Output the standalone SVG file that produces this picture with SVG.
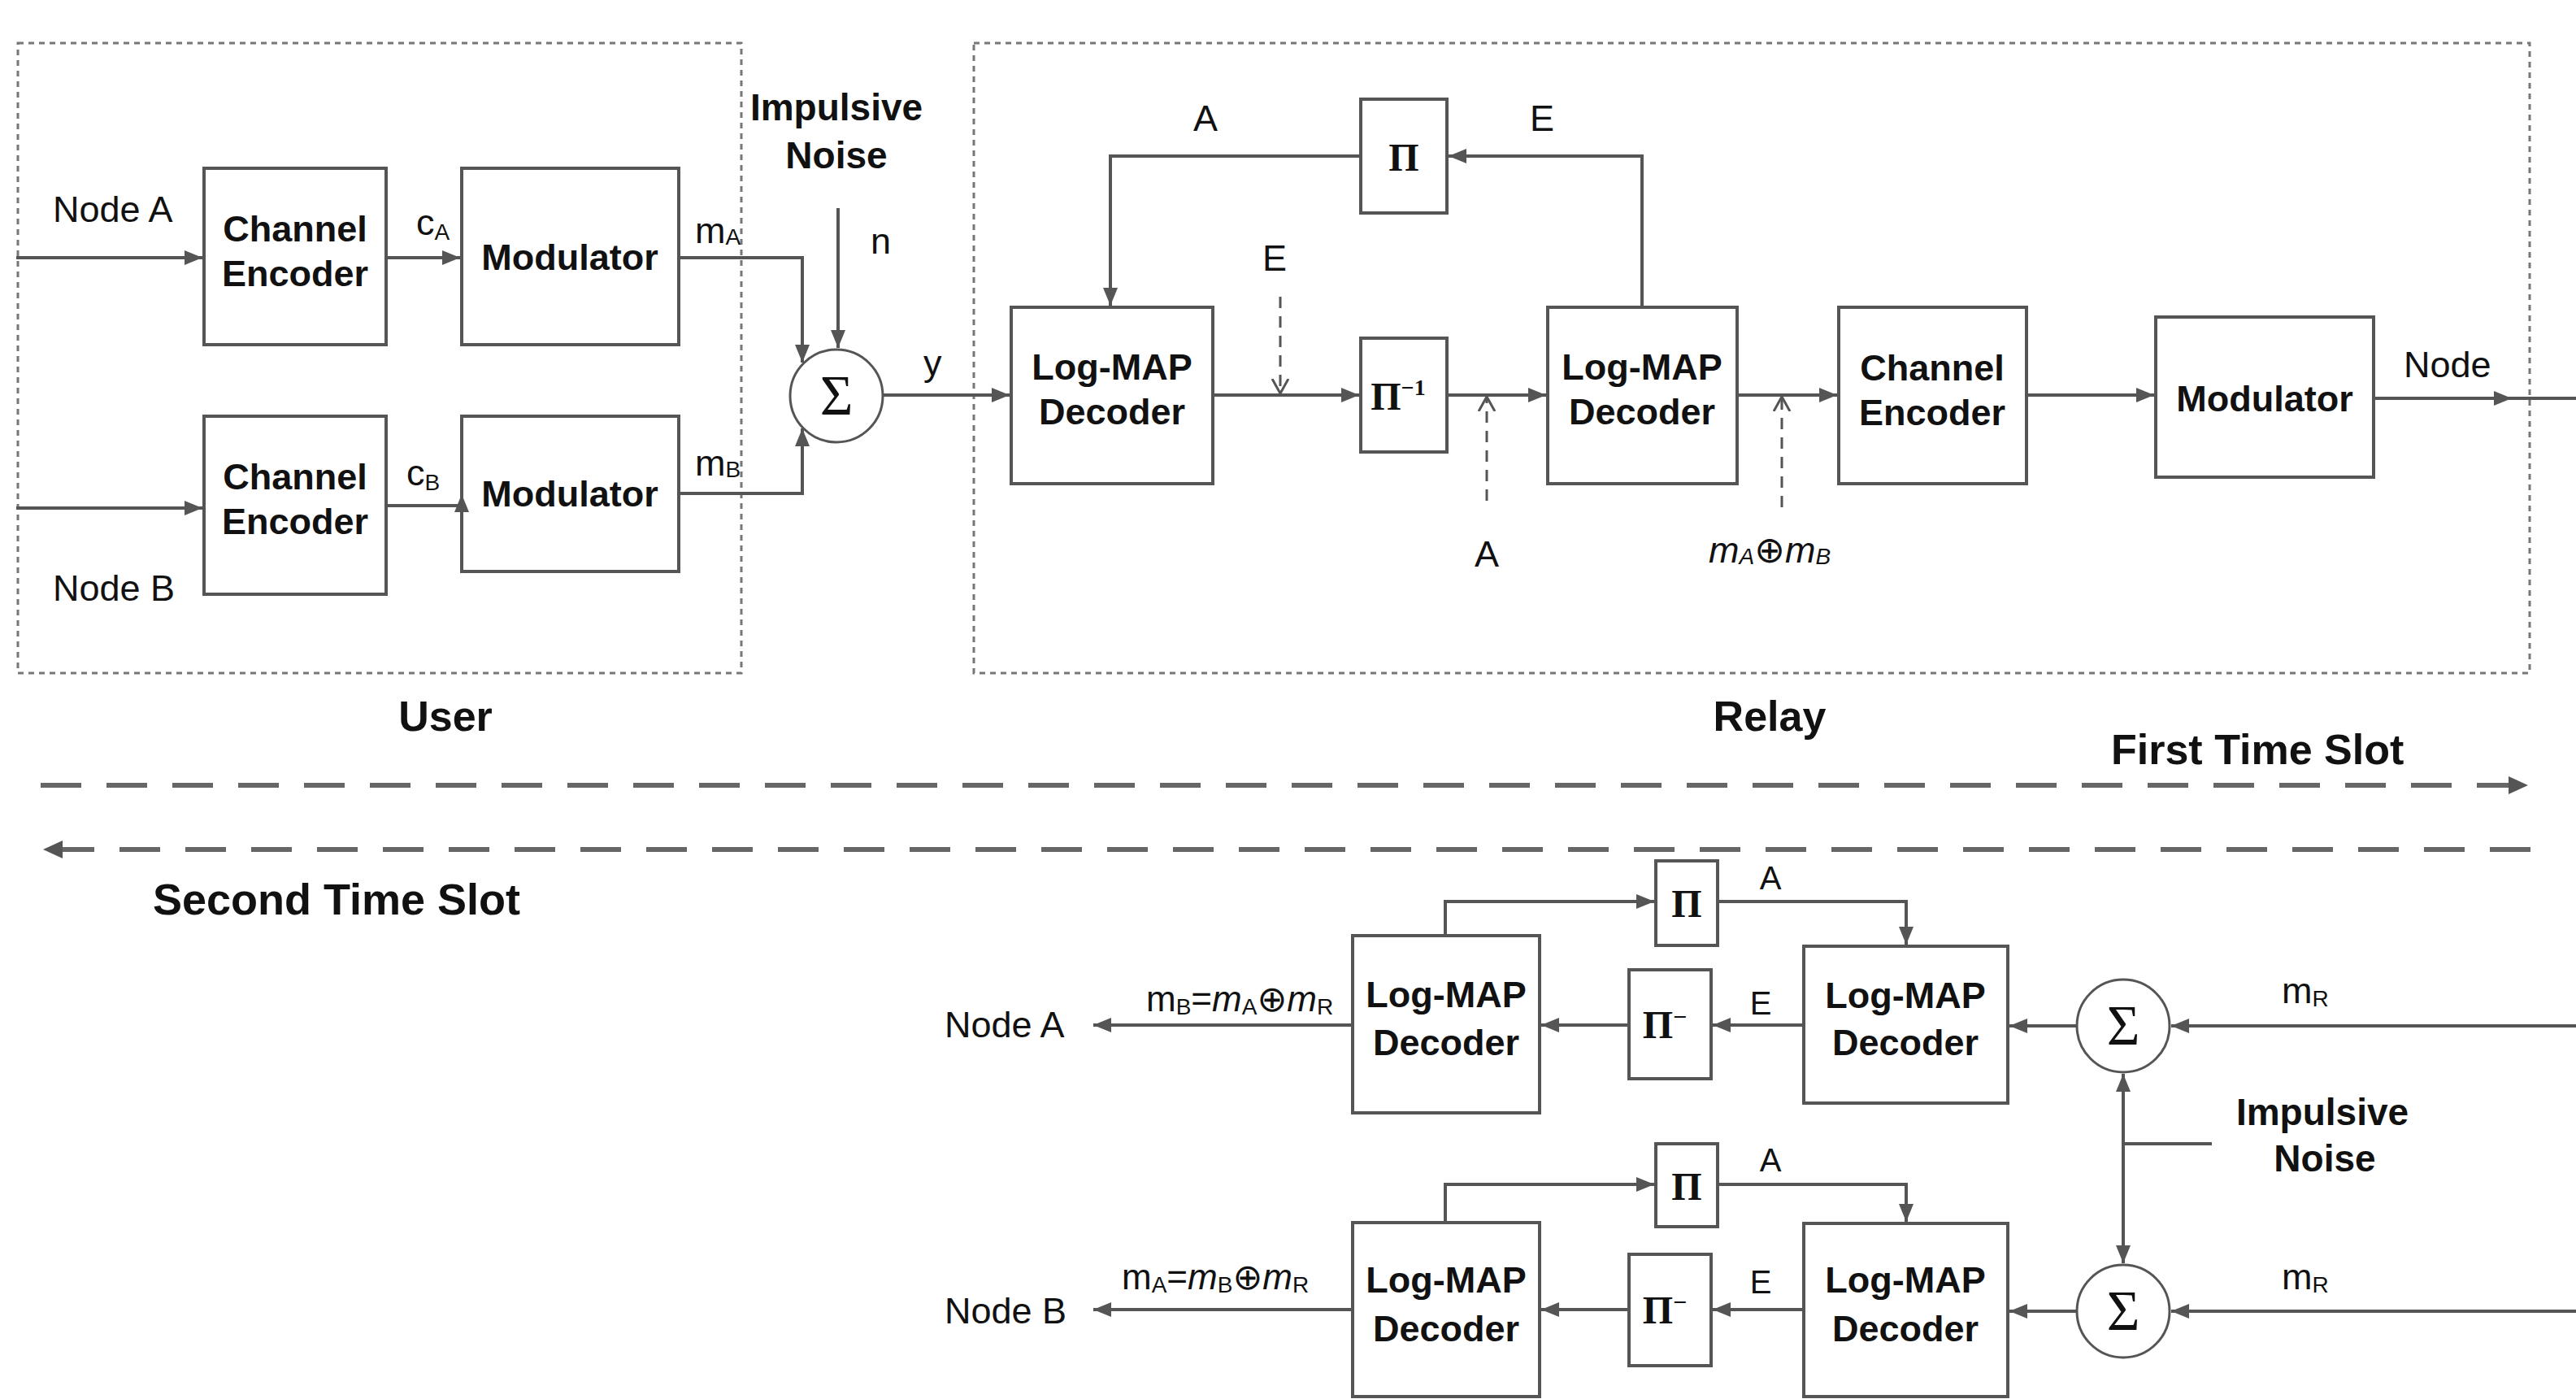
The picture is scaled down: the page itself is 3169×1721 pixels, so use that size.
<svg xmlns="http://www.w3.org/2000/svg" width="3169" height="1721" viewBox="0 0 3169 1721">
<defs>
<marker id="ah" markerUnits="userSpaceOnUse" markerWidth="24" markerHeight="20" refX="22" refY="9" orient="auto"><path d="M0,0 L22,9 L0,18 z" fill="#555"/></marker>
<marker id="ahd" markerUnits="userSpaceOnUse" markerWidth="26" markerHeight="24" refX="24" refY="11" orient="auto"><path d="M0,0 L24,11 L0,22 z" fill="#555"/></marker>
<marker id="av" markerUnits="userSpaceOnUse" markerWidth="20" markerHeight="24" refX="18" refY="11" orient="auto"><path d="M0,1 L18,11 L0,21" fill="none" stroke="#555" stroke-width="3"/></marker>
<style>
.box{fill:#fff;stroke:#555;stroke-width:4}
.grp{fill:none;stroke:#777;stroke-width:3;stroke-dasharray:7 6}
.ln{fill:none;stroke:#555;stroke-width:4}
.dl{fill:none;stroke:#555;stroke-width:3;stroke-dasharray:14 10}
.slot{fill:none;stroke:#666;stroke-width:6;stroke-dasharray:50 31}
.sum{fill:#fff;stroke:#555;stroke-width:3}
text{font-family:"Liberation Sans",Arial,"DejaVu Sans",sans-serif;fill:#111}
.bl{font-weight:bold;font-size:45px;text-anchor:middle}
.lb{font-size:45px}
.sm{font-size:40px}
.fm{font-size:44px}
.sub{font-size:28px}
.big{font-weight:bold;font-size:52px}
.imp{font-weight:bold;font-size:46px;text-anchor:middle}
.pi{font-family:"Liberation Serif","Times New Roman",serif;font-weight:bold;font-size:48px;text-anchor:middle}
.sig{font-family:"Liberation Serif","Times New Roman",serif;font-size:70px;text-anchor:middle}
.it{font-style:italic}
</style>
</defs>

<!-- group frames -->
<g id="user-frame"><rect class="grp" x="22" y="53" width="890" height="775"/><text class="big" x="548" y="899" text-anchor="middle">User</text></g>
<g id="relay-frame"><rect class="grp" x="1198" y="53" width="1914" height="775"/><text class="big" x="2177" y="899" text-anchor="middle">Relay</text></g>

<!-- user nodes -->
<g id="enc-a"><rect class="box" x="251" y="207" width="224" height="217"/><text class="bl" x="363" y="297">Channel</text><text class="bl" x="363" y="352">Encoder</text></g>
<g id="mod-a"><rect class="box" x="568" y="207" width="267" height="217"/><text class="bl" x="701" y="332">Modulator</text></g>
<g id="enc-b"><rect class="box" x="251" y="512" width="224" height="219"/><text class="bl" x="363" y="602">Channel</text><text class="bl" x="363" y="657">Encoder</text></g>
<g id="mod-b"><rect class="box" x="568" y="512" width="267" height="191"/><text class="bl" x="701" y="623">Modulator</text></g>
<g id="sum-1"><circle class="sum" cx="1029" cy="487" r="57"/><text class="sig" x="1029" y="510">Σ</text></g>

<!-- relay nodes -->
<g id="dec-r1"><rect class="box" x="1244" y="378" width="248" height="217"/><text class="bl" x="1368" y="467">Log-MAP</text><text class="bl" x="1368" y="522">Decoder</text></g>
<g id="pi-r"><rect class="box" x="1674" y="122" width="106" height="140"/><text class="pi" x="1727" y="210">Π</text></g>
<g id="pinv-r"><rect class="box" x="1674" y="416" width="106" height="140"/><text class="pi" x="1720" y="504">Π<tspan style="font-size:28px" dy="-18">−1</tspan></text></g>
<g id="dec-r2"><rect class="box" x="1904" y="378" width="233" height="217"/><text class="bl" x="2020" y="467">Log-MAP</text><text class="bl" x="2020" y="522">Decoder</text></g>
<g id="enc-r"><rect class="box" x="2262" y="378" width="231" height="217"/><text class="bl" x="2377" y="468">Channel</text><text class="bl" x="2377" y="523">Encoder</text></g>
<g id="mod-r"><rect class="box" x="2652" y="390" width="268" height="197"/><text class="bl" x="2786" y="506">Modulator</text></g>

<!-- second slot nodes -->
<g id="dec-a1"><rect class="box" x="1664" y="1151" width="230" height="218"/><text class="bl" x="1779" y="1239">Log-MAP</text><text class="bl" x="1779" y="1298">Decoder</text></g>
<g id="pi-a"><rect class="box" x="2037" y="1059" width="76" height="104"/><text class="pi" x="2075" y="1128">Π</text></g>
<g id="pinv-a"><rect class="box" x="2004" y="1193" width="101" height="134"/><text class="pi" x="2048" y="1277">Π<tspan style="font-size:30px" dy="-16">−</tspan></text></g>
<g id="dec-a2"><rect class="box" x="2219" y="1164" width="251" height="193"/><text class="bl" x="2344" y="1240">Log-MAP</text><text class="bl" x="2344" y="1298">Decoder</text></g>
<g id="sum-a"><circle class="sum" cx="2612" cy="1262" r="57"/><text class="sig" x="2612" y="1285">Σ</text></g>

<g id="dec-b1"><rect class="box" x="1664" y="1504" width="230" height="214"/><text class="bl" x="1779" y="1590">Log-MAP</text><text class="bl" x="1779" y="1650">Decoder</text></g>
<g id="pi-b"><rect class="box" x="2037" y="1407" width="76" height="102"/><text class="pi" x="2075" y="1476">Π</text></g>
<g id="pinv-b"><rect class="box" x="2004" y="1543" width="101" height="137"/><text class="pi" x="2048" y="1628">Π<tspan style="font-size:30px" dy="-16">−</tspan></text></g>
<g id="dec-b2"><rect class="box" x="2219" y="1505" width="251" height="213"/><text class="bl" x="2344" y="1590">Log-MAP</text><text class="bl" x="2344" y="1650">Decoder</text></g>
<g id="sum-b"><circle class="sum" cx="2612" cy="1613" r="57"/><text class="sig" x="2612" y="1636">Σ</text></g>

<!-- connectors -->
<g id="connectors">
<path class="ln" d="M20,317 H249" marker-end="url(#ah)"/>
<path class="ln" d="M20,625 H249" marker-end="url(#ah)"/>
<path class="ln" d="M475,317 H566" marker-end="url(#ah)"/>
<path class="ln" d="M475,622 H568 V608" marker-end="url(#ah)"/>
<path class="ln" d="M835,317 H987 V446" marker-end="url(#ah)"/>
<path class="ln" d="M835,607 H987 V527" marker-end="url(#ah)"/>
<path class="ln" d="M1031,256 V428" marker-end="url(#ah)"/>
<path class="ln" d="M1086,486 H1242" marker-end="url(#ah)"/>
<path class="ln" d="M2020,378 V192 H1782" marker-end="url(#ah)"/>
<path class="ln" d="M1674,192 H1366 V376" marker-end="url(#ah)"/>
<path class="ln" d="M1492,486 H1672" marker-end="url(#ah)"/>
<path class="ln" d="M1780,486 H1902" marker-end="url(#ah)"/>
<path class="ln" d="M2137,486 H2260" marker-end="url(#ah)"/>
<path class="ln" d="M2493,486 H2650" marker-end="url(#ah)"/>
<path class="ln" d="M2920,490 H3090" marker-end="url(#ah)"/>
<path class="ln" d="M3088,490 H3169"/>
<path class="dl" d="M1575,365 V484" marker-end="url(#av)"/>
<path class="dl" d="M1829,616 V488" marker-end="url(#av)"/>
<path class="dl" d="M2192,624 V488" marker-end="url(#av)"/>

<path class="slot" d="M50,966 H3110" marker-end="url(#ahd)"/>
<path class="slot" d="M3113,1045 H53" marker-end="url(#ahd)"/>

<path class="ln" d="M1778,1151 V1109 H2035" marker-end="url(#ah)"/>
<path class="ln" d="M2113,1109 H2345 V1162" marker-end="url(#ah)"/>
<path class="ln" d="M2219,1261 H2107" marker-end="url(#ah)"/>
<path class="ln" d="M2004,1261 H1896" marker-end="url(#ah)"/>
<path class="ln" d="M1664,1261 H1345" marker-end="url(#ah)"/>
<path class="ln" d="M2555,1262 H2472" marker-end="url(#ah)"/>
<path class="ln" d="M3169,1262 H2671" marker-end="url(#ah)"/>

<path class="ln" d="M1778,1504 V1457 H2035" marker-end="url(#ah)"/>
<path class="ln" d="M2113,1457 H2345 V1503" marker-end="url(#ah)"/>
<path class="ln" d="M2219,1611 H2107" marker-end="url(#ah)"/>
<path class="ln" d="M2004,1611 H1896" marker-end="url(#ah)"/>
<path class="ln" d="M1664,1611 H1345" marker-end="url(#ah)"/>
<path class="ln" d="M2555,1613 H2472" marker-end="url(#ah)"/>
<path class="ln" d="M3169,1613 H2671" marker-end="url(#ah)"/>

<path class="ln" d="M2612,1407 V1321" marker-end="url(#ah)"/>
<path class="ln" d="M2612,1407 V1554" marker-end="url(#ah)"/>
<path class="ln" d="M2612,1407 H2721"/>
</g>

<!-- labels -->
<g id="labels">
<text class="lb" x="65" y="273">Node A</text>
<text class="lb" x="65" y="739">Node B</text>
<text class="lb" x="512" y="289">c<tspan class="sub" dy="6">A</tspan></text>
<text class="lb" x="500" y="597">c<tspan class="sub" dy="6">B</tspan></text>
<text class="lb" x="855" y="299">m<tspan class="sub" dy="2">A</tspan></text>
<text class="lb" x="855" y="585">m<tspan class="sub" dy="2">B</tspan></text>
<text class="imp" x="1029" y="148">Impulsive</text>
<text class="imp" x="1029" y="207">Noise</text>
<text class="lb" x="1071" y="312">n</text>
<text class="lb" x="1136" y="462">y</text>
<text class="lb" x="1483" y="161" text-anchor="middle">A</text>
<text class="lb" x="1897" y="161" text-anchor="middle">E</text>
<text class="lb" x="1568" y="333" text-anchor="middle">E</text>
<text class="lb" x="1829" y="697" text-anchor="middle">A</text>
<text class="lb it" x="2102" y="692">m<tspan class="sub" dy="2">A</tspan><tspan dy="-2" style="font-style:normal">⊕</tspan>m<tspan class="sub" dy="2">B</tspan></text>
<text class="lb" x="2957" y="464">Node</text>
<text class="big" x="2597" y="940">First Time Slot</text>
<text class="big" x="188" y="1125" style="font-size:54px">Second Time Slot</text>

<text class="sm" x="2178" y="1094" text-anchor="middle">A</text>
<text class="sm" x="2166" y="1248" text-anchor="middle">E</text>
<text class="sm" x="2178" y="1441" text-anchor="middle">A</text>
<text class="sm" x="2166" y="1591" text-anchor="middle">E</text>
<text class="lb" x="1162" y="1276">Node A</text>
<text class="lb" x="1162" y="1628">Node B</text>
<text class="fm" x="1410" y="1244">m<tspan class="sub" dy="4">B</tspan><tspan dy="-4">=</tspan><tspan class="it">m</tspan><tspan class="sub" dy="4">A</tspan><tspan dy="-4">⊕</tspan><tspan class="it">m</tspan><tspan class="sub" dy="4">R</tspan></text>
<text class="fm" x="1380" y="1586">m<tspan class="sub" dy="4">A</tspan><tspan dy="-4">=</tspan><tspan class="it">m</tspan><tspan class="sub" dy="4">B</tspan><tspan dy="-4">⊕</tspan><tspan class="it">m</tspan><tspan class="sub" dy="4">R</tspan></text>
<text class="lb" x="2807" y="1234">m<tspan class="sub" dy="4">R</tspan></text>
<text class="lb" x="2807" y="1586">m<tspan class="sub" dy="4">R</tspan></text>
<text class="imp" x="2857" y="1384">Impulsive</text>
<text class="imp" x="2860" y="1441">Noise</text>
</g>
</svg>
